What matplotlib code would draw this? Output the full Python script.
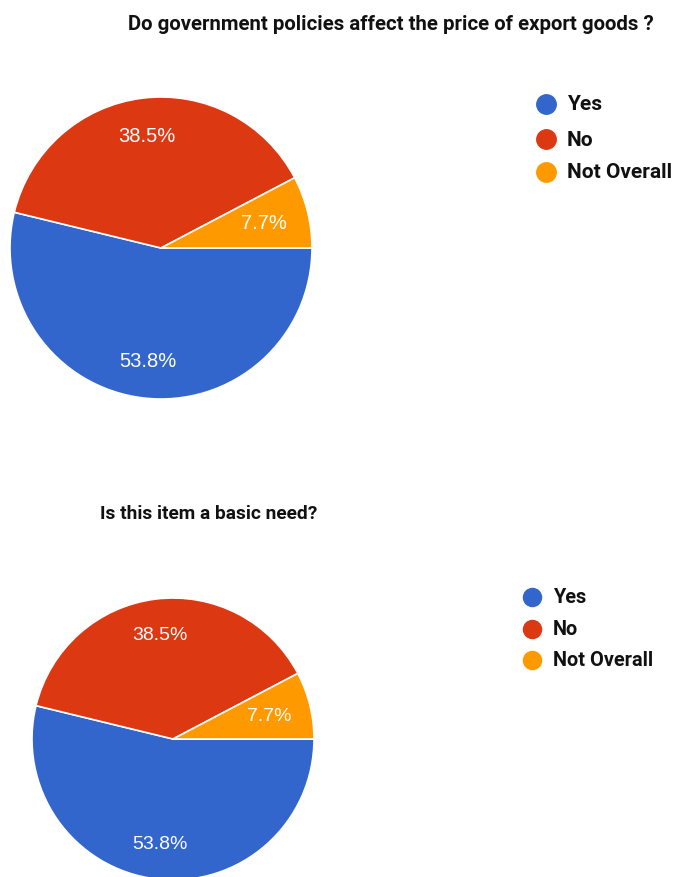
import matplotlib
matplotlib.use("Agg")
import numpy as np
import matplotlib.pyplot as plt
from matplotlib.lines import Line2D

# survey answers
labels = ["Yes", "No", "Not Overall"]
share_policies = [53.8, 38.5, 7.7]
share_basic = [53.8, 38.5, 7.7]
colors = ["#3366CC", "#DC3912", "#FF9900"]

title_policies = "Do government policies affect the price of export goods ?"
title_basic = "Is this item a basic need?"

W, H = 676, 878
fig = plt.figure(figsize=(W / 100, H / 100), dpi=100)

bold_font = dict(family=["Roboto", "DejaVu Sans"], weight="bold")


def fx(px):
    return px / W


def fy(py):
    return 1 - py / H


def draw_pie(values, box, title, title_xy, leg_x, leg_ys, title_size, leg_size,
             pct_size, dot_size):
    x0, y0, x1, y1 = box
    ax = fig.add_axes([fx(x0), fy(y1), fx(x1 - x0), (y1 - y0) / H])
    wedges, texts, autotexts = ax.pie(
        values, colors=colors, startangle=0, counterclock=False,
        autopct="%.1f%%", pctdistance=0.75, radius=1,
        wedgeprops=dict(edgecolor="white", linewidth=1.2),
        textprops=dict(color="white", fontsize=pct_size, family="Liberation Sans"))
    # the small slice label sits a bit closer to the centre
    w = wedges[-1]
    mid = np.deg2rad((w.theta1 + w.theta2) / 2)
    autotexts[-1].set_position((0.70 * np.cos(mid), 0.70 * np.sin(mid)))
    ax.set_xlim(-1, 1)
    ax.set_ylim(-1, 1)
    ax.set_aspect("equal")
    ax.axis("off")

    fig.text(fx(title_xy[0]), fy(title_xy[1]), title, ha="center", va="center",
             fontsize=title_size, color="#111111", **bold_font)

    for lab, col, ly in zip(labels, colors, leg_ys):
        fig.add_artist(Line2D([fx(leg_x)], [fy(ly)], marker="o", markersize=dot_size,
                              color=col, transform=fig.transFigure))
        fig.text(fx(leg_x + 21), fy(ly), lab, ha="left", va="center",
                 fontsize=leg_size, color="#111111", **bold_font)


draw_pie(share_policies, (10, 98, 312, 400), title_policies, (391, 24),
         546, [105, 140, 173], 14.7, 15, 14.5, 14)
draw_pie(share_basic, (32, 599, 314, 881), title_basic, (209, 514),
         532, [598, 630, 661], 13.8, 14.3, 14, 13)

fig.savefig("out.png", dpi=100)
